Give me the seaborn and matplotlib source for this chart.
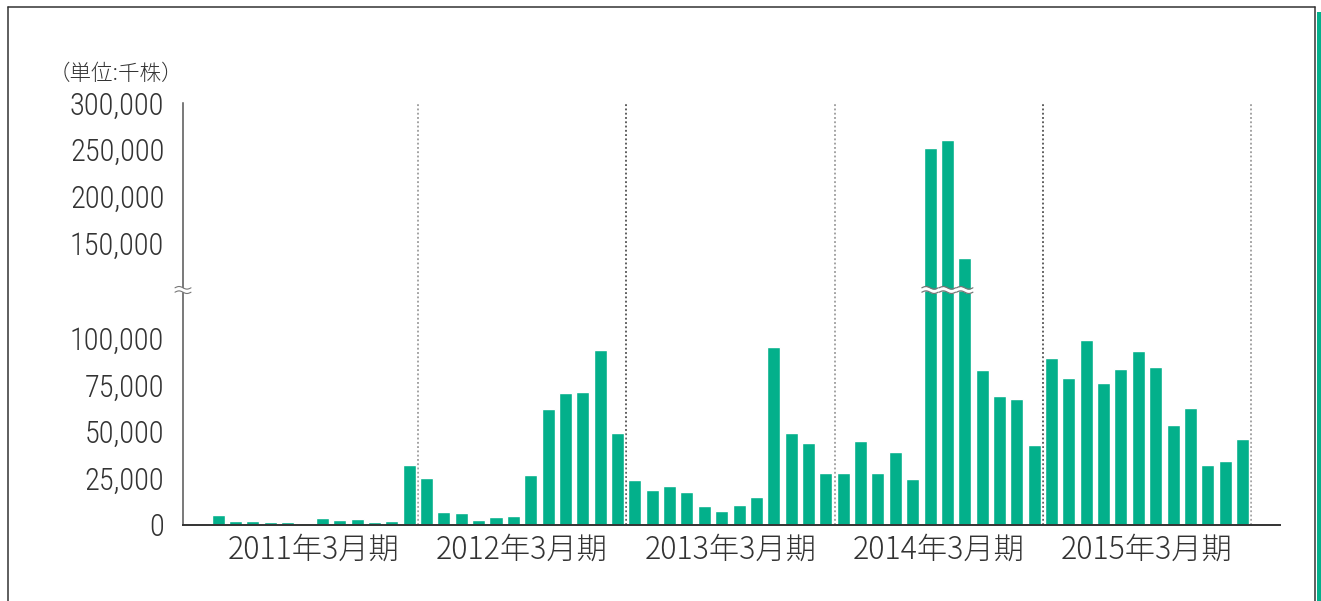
import numpy as np
import pandas as pd
import matplotlib
matplotlib.use("Agg")
import matplotlib.pyplot as plt
import seaborn as sns
from matplotlib.lines import Line2D
from matplotlib.patches import Rectangle

# ---------------- data (thousand shares, monthly) ----------------
fy_labels = ["2011年3月期", "2012年3月期", "2013年3月期", "2014年3月期", "2015年3月期"]
fy2011 = [5200, 2100, 2100, 1600, 1600, 1100, 3700, 2700, 3200, 1600, 2100, 32100]
fy2012 = [25200, 7000, 6400, 2700, 4300, 4800, 26800, 62100, 70700, 71200, 93700, 49200]
fy2013 = [24100, 18700, 20900, 17700, 10200, 7500, 10700, 15000, 95300, 49200, 43900, 27800]
fy2014 = [27800, 45000, 27800, 39100, 24600, 252000, 260600, 134300, 83000, 69100, 67400, 42800]
fy2015 = [89400, 78700, 99000, 76000, 83500, 93100, 84600, 53500, 62600, 32100, 34300, 46000]
lower_ticks = [0, 25000, 50000, 75000, 100000]
upper_ticks = [150000, 200000, 250000, 300000]
unit_label = "（単位:千株）"

values = fy2011 + fy2012 + fy2013 + fy2014 + fy2015
df = pd.DataFrame({"month": np.arange(len(values)), "volume": values})

# ---------------- style ----------------
sns.set_theme(style="white")
NUM = "Roboto Condensed"
CJK = "Noto Sans CJK JP"
plt.rcParams["font.family"] = [NUM, CJK, "DejaVu Sans"]

GREEN = "#03B08B"
TXT = "#333333"

W, H = 1321, 601
fig = plt.figure(figsize=(W / 100, H / 100), dpi=100)
fig.patch.set_facecolor("white")

x0, x1 = 183, 1280
y_top, y_brk, y_bot = 103, 290, 525
ax_up = fig.add_axes([x0 / W, (H - y_brk) / H, (x1 - x0) / W, (y_brk - y_top) / H])
ax_lo = fig.add_axes([x0 / W, (H - y_bot) / H, (x1 - x0) / W, (y_bot - y_brk) / H])

lower_max = 125800
upper_min, upper_max = 100000, 300000
xlo, xhi = -2.03, 61.16

for ax in (ax_up, ax_lo):
    ax.set_facecolor("none")
    sns.barplot(data=df, x="month", y="volume", ax=ax, color=GREEN,
                saturation=1, width=0.75, native_scale=True, errorbar=None)
    ax.set_xlim(xlo, xhi)
    ax.set_xlabel("")
    ax.set_ylabel("")
    for k, b in enumerate([11.5, 23.5, 35.5, 47.5, 59.5]):
        col = "#8a8a8a" if k % 2 == 0 else "#333333"
        ax.axvline(b, color=col, lw=1.1, ls=(0, (1.2, 1.6)), zorder=0.5)
    ax.spines["top"].set_visible(False)
    ax.spines["right"].set_visible(False)
    ax.spines["left"].set_color("#555555")
    ax.spines["left"].set_linewidth(1.1)
    ax.tick_params(axis="both", length=0)

ax_up.set_ylim(upper_min, upper_max)
ax_up.set_yticks(upper_ticks)
ax_up.set_yticklabels([f"{v:,}" for v in upper_ticks])
ax_up.spines["bottom"].set_visible(False)
ax_up.set_xticks([])

ax_lo.set_ylim(0, lower_max)
ax_lo.set_yticks(lower_ticks)
ax_lo.set_yticklabels([f"{v:,}" for v in lower_ticks])
ax_lo.spines["bottom"].set_color("#333333")
ax_lo.spines["bottom"].set_linewidth(1.4)
centers = [5.5, 17.5, 29.5, 41.5, 53.5]
ax_lo.set_xticks(centers)
ax_lo.set_xticklabels(fy_labels)
for lab in ax_lo.get_xticklabels():
    lab.set_fontfamily([CJK, "DejaVu Sans"])
    lab.set_fontweight(300)
    lab.set_fontsize(21.8)
    lab.set_color(TXT)
ax_lo.tick_params(axis="x", pad=6)

for ax in (ax_up, ax_lo):
    for lab in ax.get_yticklabels():
        lab.set_fontfamily([NUM, "DejaVu Sans"])
        lab.set_fontweight(300)
        lab.set_fontsize(22)
        lab.set_color(TXT)
    ax.tick_params(axis="y", pad=13.5)

# ---------------- break marks ----------------
px_x = (xhi - xlo) / (x1 - x0)          # data units per pixel in x
px_y = lower_max / (y_bot - y_brk)      # data units per pixel in y


def wave_mark(cx, half_w, ax, lw=0.9):
    xs = np.linspace(cx - half_w, cx + half_w, 60)
    ph = 2 * np.pi * (xs - (cx - half_w)) / (2 * half_w)
    amp = 1.3 * px_y
    yt = lower_max + 2.2 * px_y + amp * np.sin(ph)
    yb = lower_max - 2.2 * px_y + amp * np.sin(ph)
    ax.fill_between(xs, yb, yt, color="white", zorder=6, clip_on=False, lw=0)
    ax.plot(xs, yt, color="#777777", lw=lw, zorder=7, clip_on=False)
    ax.plot(xs, yb, color="#777777", lw=lw, zorder=7, clip_on=False)


for i, v in enumerate(values):
    if v > lower_max:
        wave_mark(i, 0.47, ax_lo)
wave_mark(xlo, 8 * px_x, ax_lo, lw=0.8)

# ---------------- unit label & frame ----------------
fig.text(116 / W, 1 - 73.5 / H, unit_label, ha="center", va="center",
         fontsize=15.5, fontweight=300, color=TXT, family=[CJK, "DejaVu Sans"])

fig.add_artist(Line2D([7.5 / W, 7.5 / W], [0, 1 - 6.5 / H], color="#333333", lw=1.1))
fig.add_artist(Line2D([7.5 / W, 1315 / W], [1 - 6.5 / H, 1 - 6.5 / H], color="#333333", lw=1.1))
fig.add_artist(Line2D([1315 / W, 1315 / W], [0, 1 - 6.5 / H], color="#333333", lw=1.1))
fig.add_artist(Rectangle((1316.5 / W, 0), 5 / W, 1 - 12 / H, transform=fig.transFigure,
                         color=GREEN, lw=0))

fig.savefig("out.png", dpi=100)
